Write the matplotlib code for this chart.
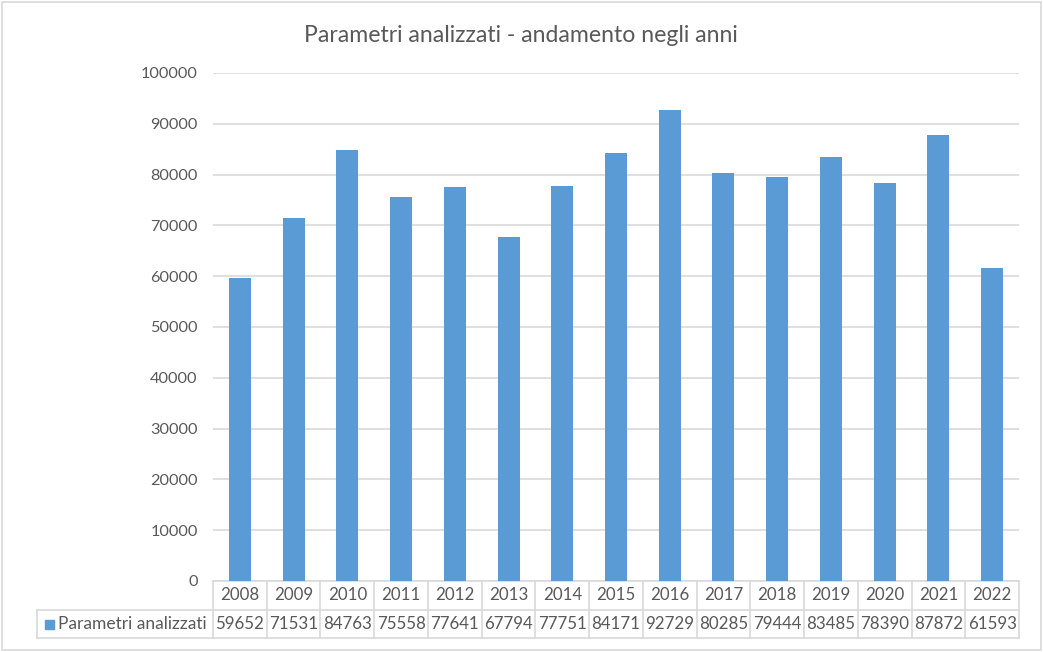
import matplotlib
matplotlib.use("Agg")
import matplotlib.pyplot as plt
import matplotlib.transforms as mtransforms
from matplotlib.patches import Rectangle

years = ["2008", "2009", "2010", "2011", "2012", "2013", "2014", "2015",
         "2016", "2017", "2018", "2019", "2020", "2021", "2022"]
values = [59652, 71531, 84763, 75558, 77641, 67794, 77751, 84171,
          92729, 80285, 79444, 83485, 78390, 87872, 61593]
series_name = "Parametri analizzati"
title = "Parametri analizzati - andamento negli anni"
yticks = list(range(0, 100001, 10000))

bar_color = "#5B9BD5"
grid_color = "#D9D9D9"
text_color = "#595959"
font = ["Lato", "DejaVu Sans"]

W, H = 1043, 652
fig = plt.figure(figsize=(W / 100, H / 100), dpi=100)
plt.rcParams['font.family'] = font

left, right, bottom, top = 213 / W, 1019 / W, 1 - 581 / H, 1 - 73 / H
ax = fig.add_axes([left, bottom, right - left, top - bottom])

n = len(years)
x = list(range(n))
ax.bar(x, values, width=0.41, color=bar_color, zorder=3)
ax.set_xlim(-0.5, n - 0.5)
ax.set_ylim(0, 100000)
ax.set_yticks(yticks)
ax.set_yticklabels([str(v) for v in yticks], fontsize=11.7, color=text_color)
ax.tick_params(axis='y', length=0, pad=11)
ax.set_xticks([])
ax.yaxis.grid(True, color=grid_color, linewidth=1.2, zorder=0)
for s in ["top", "right", "left"]:
    ax.spines[s].set_visible(False)
ax.spines["bottom"].set_color(grid_color)
ax.spines["bottom"].set_linewidth(1.2)

# data table below the axes
trans = mtransforms.blended_transform_factory(ax.transData, fig.transFigure)
y0 = 1 - 581 / H
y1 = 1 - 610 / H
y2 = 1 - 638 / H
lw = 1.2
for i in range(n + 1):
    xb = i - 0.5
    ax.plot([xb, xb], [y0, y2], transform=trans, color=grid_color, lw=lw, clip_on=False)
ax.plot([-0.5, n - 0.5], [y1, y1], transform=trans, color=grid_color, lw=lw, clip_on=False)
ax.plot([-0.5, n - 0.5], [y2, y2], transform=trans, color=grid_color, lw=lw, clip_on=False)
# legend cell
lx0 = 37 / W
fig.add_artist(plt.Line2D([lx0, left], [y1, y1], color=grid_color, lw=lw))
fig.add_artist(plt.Line2D([lx0, left], [y2, y2], color=grid_color, lw=lw))
fig.add_artist(plt.Line2D([lx0, lx0], [y1, y2], color=grid_color, lw=lw))

for i, (yr, v) in enumerate(zip(years, values)):
    ax.text(i, (y0 + y1) / 2, yr, transform=trans, ha='center', va='center',
            fontsize=12.2, color=text_color)
    ax.text(i, (y1 + y2) / 2, str(v), transform=trans, ha='center', va='center',
            fontsize=12.2, color=text_color)

ym = (y1 + y2) / 2
fig.add_artist(Rectangle((45 / W, ym - 4.5 / H), 9 / W, 9 / H, color=bar_color,
                         transform=fig.transFigure))
fig.text(58 / W, ym, series_name, ha='left', va='center', fontsize=12.5, color=text_color)

fig.text(521 / W, 1 - 35 / H, title, ha='center', va='center', fontsize=16.6,
         color=text_color)

# outer border
fig.add_artist(Rectangle((2 / W, 2 / H), (W - 4) / W, (H - 4) / H, fill=False,
                         edgecolor=grid_color, lw=1.2, transform=fig.transFigure))

fig.savefig("out.png", dpi=100)
